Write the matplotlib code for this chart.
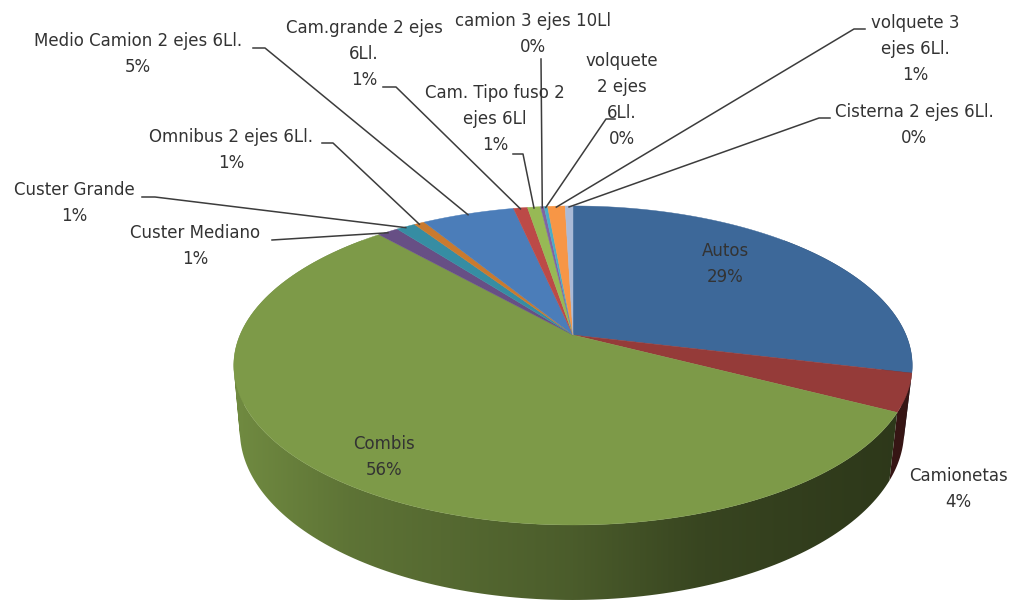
#!/usr/bin/env python3
"""3D style pie chart of vehicle types, drawn by hand on a pixel sized axes."""

import numpy as np
import matplotlib
matplotlib.use("Agg")
import matplotlib.pyplot as plt
from matplotlib.colors import to_rgb
from matplotlib.patches import PathPatch
from matplotlib.path import Path

# ----------------------------------------------------------------------
# Data
# ----------------------------------------------------------------------

names = [
    "Autos",
    "Camionetas",
    "Combis",
    "Custer Mediano",
    "Custer Grande",
    "Omnibus 2 ejes 6Ll.",
    "Medio Camion 2 ejes 6Ll.",
    "Cam.grande 2 ejes\n6Ll.",
    "Cam. Tipo fuso 2\nejes 6Ll",
    "camion 3 ejes 10Ll",
    "volquete\n2 ejes\n6Ll.",
    "volquete 3\nejes 6Ll.",
    "Cisterna 2 ejes 6Ll.",
]
shares = [28.8, 3.8, 55.8, 1.2, 1.1, 0.6, 5.3, 0.8, 0.75, 0.2, 0.2, 1.0, 0.45]
percent_labels = ["29%", "4%", "56%", "1%", "1%", "1%", "5%", "1%", "1%", "0%", "0%", "1%", "0%"]
colors = [
    "#3d6899", "#953b39", "#7d9a48", "#674f85", "#368da3", "#c97a2f", "#4b7db9",
    "#bc4a47", "#97b955", "#8064a2", "#4bacc6", "#f79646", "#aabad7",
]

# label block centres, in pixels
label_x = [725, 958, 384, 195, 74, 231, 138, 364, 495, 533, 622, 915, 914]
label_y = [264, 489, 457, 246, 203, 150, 54, 54, 119, 34, 100, 49, 125]

# leader lines: label side points per slice index, the end goes to the rim
leaders = {
    3: [(272, 240)],
    4: [(142, 197), (155, 197)],
    5: [(322, 143), (333, 143)],
    6: [(253, 48), (265, 48)],
    7: [(383, 87), (396, 87)],
    8: [(513, 154), (523, 154)],
    9: [(541, 59)],
    10: [(615, 119), (606, 119)],
    11: [(865, 29), (854, 29)],
    12: [(830, 118), (819, 118)],
}

# side wall shading against pixel x
shade_x = [234, 350, 570, 700, 850, 913]
shade_f = [0.90, 0.75, 0.60, 0.45, 0.38, 0.36]

# ----------------------------------------------------------------------
# Projection of the disc
# ----------------------------------------------------------------------

TOP_CX, TOP_CY, TOP_RX, TOP_RY = 573, 335, 333, 153.7
LOW_CX, LOW_CY, LOW_RX, LOW_RY = 572, 398.5, 326, 163
PERSP = 0.191


def project(theta, cx, cy, rx, ry):
    """theta in radians, clockwise from twelve o'clock"""
    u, v = np.sin(theta), np.cos(theta)
    w = 1 + PERSP * v
    return cx + rx * u / w, cy - ry * v / w


def quad_path(pts):
    # all quads wound the same way, otherwise overlapping ones cancel in the clip
    pts = np.array(pts)
    x, y = pts[:, 0], pts[:, 1]
    area = np.sum(x * np.roll(y, -1) - np.roll(x, -1) * y)
    if area < 0:
        pts = pts[::-1]
    return Path(np.vstack([pts, pts[:1]]), closed=True)


fig = plt.figure(figsize=(10.13, 6.0), dpi=100)
ax = fig.add_axes([0, 0, 1, 1])

edges = np.deg2rad(np.concatenate([[0], np.cumsum(shares)]) * 3.6)

# side wall first, the top face covers what is behind
grad_x = np.arange(200, 940)
grad_f = np.interp(grad_x, shade_x, shade_f)
for i, col in enumerate(colors):
    th = np.linspace(edges[i], edges[i + 1], 200)
    th = th[np.cos(th) < 0.7]
    if len(th) < 2:
        continue
    x1, y1 = project(th, TOP_CX, TOP_CY, TOP_RX, TOP_RY)
    x2, y2 = project(th, LOW_CX, LOW_CY, LOW_RX, LOW_RY)
    # one small quad per step, so the union also fills the tangent part at the sides
    quads = []
    for j in range(len(th) - 1):
        quads.append(quad_path([(x1[j], y1[j]), (x1[j + 1], y1[j + 1]), (x2[j + 1], y2[j + 1]), (x2[j], y2[j])]))
    wall = PathPatch(Path.make_compound_path(*quads), transform=ax.transData, facecolor="none", edgecolor="none")
    ax.add_patch(wall)
    grad = grad_f[None, :, None] * np.array(to_rgb(col))[None, None, :]
    im = ax.imshow(grad, extent=(200, 940, 610, 200), aspect="auto", interpolation="bilinear", zorder=1)
    im.set_clip_path(wall)

ax.set_xlim(0, 1013)
ax.set_ylim(600, 0)
ax.axis("off")

# top face
for i, col in enumerate(colors):
    th = np.linspace(edges[i], edges[i + 1], 120)
    x, y = project(th, TOP_CX, TOP_CY, TOP_RX, TOP_RY)
    ax.fill(np.r_[TOP_CX, x], np.r_[TOP_CY, y], facecolor=col, edgecolor=col, linewidth=0.3, zorder=2)

# leader lines
for i, pts in leaders.items():
    mid = (edges[i] + edges[i + 1]) / 2
    ex, ey = project(mid, TOP_CX, TOP_CY, TOP_RX, TOP_RY)
    xs = [p[0] for p in pts] + [ex]
    ys = [p[1] for p in pts] + [ey + 1]
    ax.plot(xs, ys, color="#3c3c3c", linewidth=1.1, zorder=3)

# labels
for i, name in enumerate(names):
    ax.text(
        label_x[i],
        label_y[i],
        f"{name}\n{percent_labels[i]}",
        ha="center",
        va="center",
        family="DejaVu Sans",
        fontsize=12,
        color="#333333",
        linespacing=1.55,
        zorder=4,
    )

fig.savefig("out.png", dpi=100)
